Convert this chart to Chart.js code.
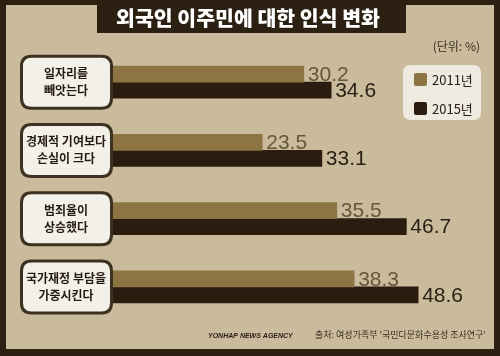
<!DOCTYPE html>
<html><head><meta charset="utf-8">
<script src="https://cdn.jsdelivr.net/npm/chart.js@4/dist/chart.umd.min.js"></script>
<style>html,body{margin:0;padding:0;background:#c9bb9c}#wrap{width:500px;height:356px;position:relative}</style>
</head><body><div id="wrap"><canvas id="c" width="500" height="356"></canvas></div>
<script>
const categories = [["일자리를","빼앗는다"],["경제적 기여보다","손실이 크다"],["범죄율이","상승했다"],["국가재정 부담을","가중시킨다"]];
const seriesNames = ["2011년","2015년"];
const values2011 = [30.2, 23.5, 35.5, 38.3];
const values2015 = [34.6, 33.1, 46.7, 48.6];
const titleText = "외국인 이주민에 대한 인식 변화";
const unitText = "(단위: %)";
const sourceText = "출처: 여성가족부 '국민다문화수용성 조사연구'";
const agencyText = "YONHAP NEWS AGENCY";

const BG = "#c9bb9c", FRAME = "#2b2012", GOLD = "#8d7443", DARK = "#2a1c0e";
const KR = "'Noto Sans CJK KR','Noto Sans',sans-serif";

function rr(ctx,x,y,w,h,r){ctx.beginPath();ctx.moveTo(x+r,y);ctx.lineTo(x+w-r,y);ctx.quadraticCurveTo(x+w,y,x+w,y+r);ctx.lineTo(x+w,y+h-r);ctx.quadraticCurveTo(x+w,y+h,x+w-r,y+h);ctx.lineTo(x+r,y+h);ctx.quadraticCurveTo(x,y+h,x,y+h-r);ctx.lineTo(x,y+r);ctx.quadraticCurveTo(x,y,x+r,y);ctx.closePath();}
function fitText(ctx,text,x,y,w,font,size){
  let s=size; ctx.font=font.replace('SZ',s+'px');
  while(ctx.measureText(text).width>w && s>6){s-=0.25; ctx.font=font.replace('SZ',s+'px');}
  ctx.fillText(text,x,y);
}

const deco = {
  id:'deco',
  beforeDraw(chart){
    const ctx = chart.ctx;
    ctx.save();
    ctx.fillStyle = FRAME; ctx.fillRect(0,0,500,356);
    ctx.fillStyle = BG; ctx.fillRect(6,5,488,344);
    // title bar
    ctx.fillStyle = FRAME; ctx.fillRect(97,0,309,33);
    ctx.fillStyle = "#ffffff"; ctx.textAlign="center"; ctx.textBaseline="middle";
    fitText(ctx,titleText,248,18,266,"900 SZ "+KR,21);
    // unit
    ctx.fillStyle = "#3a2e20"; ctx.font = "12px "+KR; ctx.textAlign="right";
    ctx.fillText(unitText, 480, 46);
    // legend
    ctx.fillStyle = "#efeadf"; rr(ctx,403,65,78,55,8); ctx.fill();
    const cols=[GOLD,DARK];
    seriesNames.forEach((n,i)=>{
      const y = 73 + i*29;
      ctx.fillStyle = cols[i]; rr(ctx,414,y,13,13,2); ctx.fill();
      ctx.fillStyle = "#2a2016"; ctx.font="13px "+KR; ctx.textAlign="left"; ctx.textBaseline="middle";
      ctx.fillText(n, 432, y+7);
    });
    // footer
    ctx.textAlign="left"; ctx.textBaseline="middle";
    ctx.fillStyle = "#2a2016";
    fitText(ctx,agencyText,208,336,85,"italic bold SZ 'Liberation Sans Narrow','Liberation Sans',sans-serif",10);
    ctx.fillStyle = "#3a2e20";
    fitText(ctx,sourceText,315,335,172,"SZ "+KR,11);
    ctx.restore();
  },
  afterDatasetsDraw(chart){
    const ctx = chart.ctx; ctx.save();
    const ys = chart.scales.y;
    categories.forEach((lines,i)=>{
      const cy = ys.getPixelForValue(i);
      ctx.fillStyle = "#f3f0e8"; ctx.strokeStyle = "#3d3121"; ctx.lineWidth = 3;
      rr(ctx,21.5,cy-26,90,52,10); ctx.fill(); ctx.stroke();
      ctx.fillStyle = "#241a10"; ctx.font = "bold 12px "+KR; ctx.textAlign="center"; ctx.textBaseline="middle";
      ctx.fillText(lines[0], 66, cy-8.5);
      ctx.fillText(lines[1], 66, cy+8.5);
    });
    const labCols = ["#65573a","#2a2016"];
    chart.data.datasets.forEach((ds,di)=>{
      const meta = chart.getDatasetMeta(di);
      meta.data.forEach((bar,i)=>{
        ctx.fillStyle = labCols[di]; ctx.font = "21px 'Liberation Sans',Arial,sans-serif";
        ctx.textAlign="left"; ctx.textBaseline="middle";
        ctx.fillText(ds.data[i].toFixed(1), bar.x+4, bar.y+1);
      });
    });
    ctx.restore();
  }
};

new Chart(document.getElementById('c'),{
  type:'bar',
  data:{
    labels: categories.map(l=>l.join(' ')),
    datasets:[
      {label:seriesNames[0], data:values2011, backgroundColor:GOLD, base:-1, barThickness:16},
      {label:seriesNames[1], data:values2015, backgroundColor:DARK, base:-1, barThickness:16}
    ]
  },
  options:{
    indexAxis:'y', responsive:false, animation:false, devicePixelRatio:1,
    layout:{padding:{left:110,right:11,top:48,bottom:35}},
    datasets:{bar:{categoryPercentage:0.62}},
    scales:{
      x:{display:false,min:-1,max:60},
      y:{display:false}
    },
    plugins:{legend:{display:false},tooltip:{enabled:false}}
  },
  plugins:[deco]
});
</script></body></html>
